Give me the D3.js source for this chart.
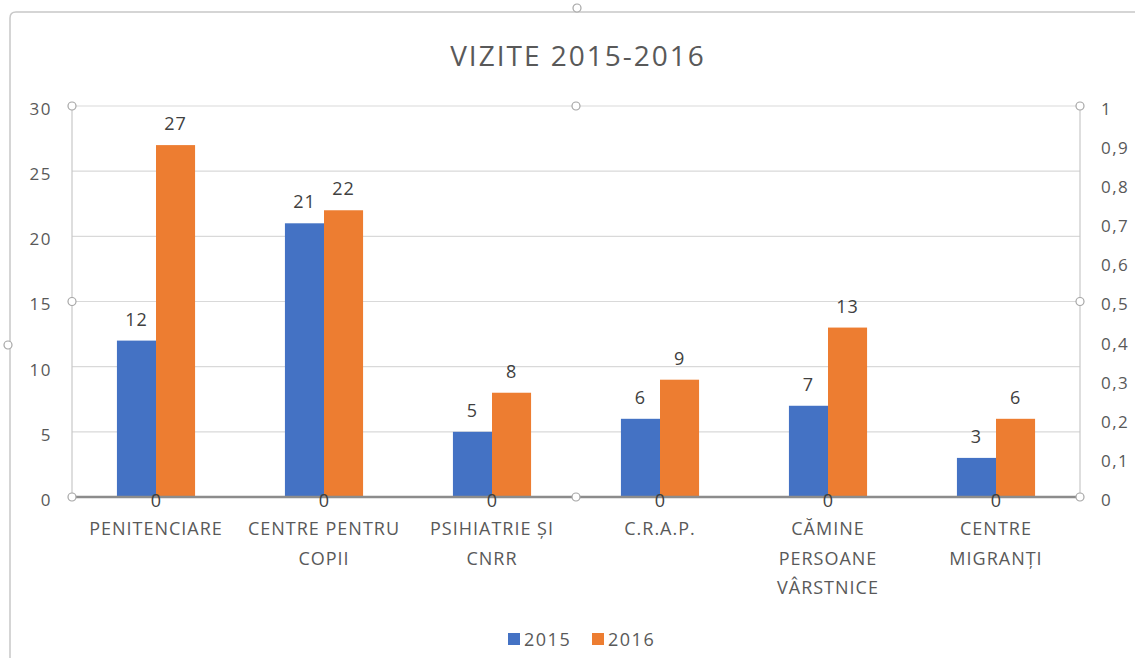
<!DOCTYPE html>
<html>
<head>
<meta charset="utf-8">
<script src="https://cdn.jsdelivr.net/npm/d3@7"></script>
<style>
	body { margin: 0; background: #fff; }
	svg { display: block; font-family: "Open Sans", sans-serif; }
</style>
</head>
<body>
<div id="main-view"></div>
<script>
var categories = [
	["PENITENCIARE"],
	["CENTRE PENTRU", "COPII"],
	["PSIHIATRIE ȘI", "CNRR"],
	["C.R.A.P."],
	["CĂMINE", "PERSOANE", "VÂRSTNICE"],
	["CENTRE", "MIGRANȚI"]
];
var series = ["2015", "2016"];
var values2015 = [12, 21, 5, 6, 7, 3];
var values2016 = [27, 22, 8, 9, 13, 6];
var secondaryValues = [0, 0, 0, 0, 0, 0];
var leftTicks = [0, 5, 10, 15, 20, 25, 30];
var rightTicks = [0, 0.1, 0.2, 0.3, 0.4, 0.5, 0.6, 0.7, 0.8, 0.9, 1];
var colors = ["#4472C4", "#ED7D31"];

function drawChart() {
	var width = 1135,
		height = 658;
	var plotLeft = 72,
		plotRight = 1080,
		plotTop = 106,
		plotBottom = 497;
	var textColor = "#595959";

	var svg = d3.select("#main-view").append("svg")
		.attr("width", width)
		.attr("height", height);

	// chart area border (chart is selected in the reference)
	svg.append("path")
		.attr("d", "M10," + height + " L10,18 Q10,12 16,12 L" + width + ",12")
		.attr("fill", "none")
		.attr("stroke", "#c8c8c8")
		.attr("stroke-width", 1.5);

	svg.append("text")
		.attr("x", 578)
		.attr("y", 66)
		.attr("text-anchor", "middle")
		.attr("fill", textColor)
		.style("font-size", "28px")
		.style("letter-spacing", "2px")
		.text("VIZITE 2015-2016");

	var x = d3.scaleBand()
		.domain(d3.range(categories.length))
		.range([plotLeft, plotRight]);

	var xInner = d3.scaleBand()
		.domain(series)
		.range([0, x.bandwidth()])
		.paddingInner(0)
		.paddingOuter(1.15);

	var y = d3.scaleLinear().domain([0, 30]).range([plotBottom, plotTop]);
	var y2 = d3.scaleLinear().domain([0, 1]).range([plotBottom, plotTop]);

	// gridlines
	svg.append("g")
		.selectAll("line")
		.data(leftTicks)
		.join("line")
		.attr("x1", plotLeft)
		.attr("x2", plotRight)
		.attr("y1", function(d) { return y(d); })
		.attr("y2", function(d) { return y(d); })
		.attr("stroke", "#d9d9d9")
		.attr("stroke-width", 1.2);

	// vertical axis lines
	[plotLeft, plotRight].forEach(function(px) {
		svg.append("line")
			.attr("x1", px).attr("x2", px)
			.attr("y1", plotTop).attr("y2", plotBottom)
			.attr("stroke", "#c8c8c8")
			.attr("stroke-width", 1.2);
	});

	var leftAxis = svg.append("g")
		.attr("transform", "translate(" + plotLeft + ",3)")
		.call(d3.axisLeft(y).tickValues(leftTicks).tickSize(0).tickPadding(20));
	leftAxis.select(".domain").remove();
	leftAxis.selectAll("text")
		.attr("fill", textColor)
		.style("font-size", "17px")
		.style("letter-spacing", "1.5px")
		.style("font-family", "Open Sans");

	var rightAxis = svg.append("g")
		.attr("transform", "translate(" + plotRight + ",3)")
		.call(d3.axisRight(y2).tickValues(rightTicks).tickSize(0).tickPadding(21)
			.tickFormat(function(d) { return String(+d.toFixed(1)).replace(".", ","); }));
	rightAxis.select(".domain").remove();
	rightAxis.selectAll("text")
		.attr("fill", textColor)
		.style("font-size", "17px")
		.style("letter-spacing", "1.5px")
		.style("font-family", "Open Sans");

	// bars
	var data = [values2015, values2016];
	var rows = function(i) {
		return series.map(function(s, j) { return { s: s, j: j, v: data[j][i] }; });
	};
	var groups = svg.append("g")
		.selectAll("g")
		.data(d3.range(categories.length))
		.join("g")
		.attr("transform", function(i) { return "translate(" + x(i) + ",0)"; });

	groups.selectAll("rect")
		.data(rows)
		.join("rect")
		.attr("x", function(d) { return xInner(d.s); })
		.attr("width", xInner.bandwidth())
		.attr("y", function(d) { return y(d.v); })
		.attr("height", function(d) { return plotBottom - y(d.v); })
		.attr("fill", function(d) { return colors[d.j]; });

	groups.selectAll("text.lbl")
		.data(rows)
		.join("text")
		.attr("class", "lbl")
		.attr("x", function(d) { return xInner(d.s) + xInner.bandwidth() / 2; })
		.attr("y", function(d) { return y(d.v) - 15; })
		.attr("text-anchor", "middle")
		.attr("fill", "#404040")
		.style("font-size", "18px")
		.style("letter-spacing", "1px")
		.text(function(d) { return d.v; });

	// baseline, primary and secondary horizontal axes
	svg.append("line")
		.attr("x1", plotLeft).attr("x2", plotRight)
		.attr("y1", plotBottom).attr("y2", plotBottom)
		.attr("stroke", "#8c8c8c")
		.attr("stroke-width", 2.5);

	// zero labels of the secondary series
	svg.append("g")
		.selectAll("text")
		.data(secondaryValues)
		.join("text")
		.attr("x", function(d, i) { return x(i) + x.bandwidth() / 2; })
		.attr("y", function(d) { return y2(d) + 10; })
		.attr("text-anchor", "middle")
		.attr("fill", "#404040")
		.style("font-size", "18px")
		.text(function(d) { return d; });

	// category labels
	var catLabels = svg.append("g")
		.selectAll("text")
		.data(categories)
		.join("text")
		.attr("x", function(d, i) { return x(i) + x.bandwidth() / 2; })
		.attr("y", 535)
		.attr("text-anchor", "middle")
		.attr("fill", textColor)
		.style("font-size", "18px")
		.style("letter-spacing", "1px");
	catLabels.selectAll("tspan")
		.data(function(d) { return d; })
		.join("tspan")
		.attr("x", function() { return d3.select(this.parentNode).attr("x"); })
		.attr("dy", function(d, i) { return i === 0 ? 0 : 29.5; })
		.text(function(d) { return d; });

	// selection handles
	var midX = (plotLeft + plotRight) / 2,
		midY = (plotTop + plotBottom) / 2;
	var handles = [
		[plotLeft, plotTop], [midX, plotTop], [plotRight, plotTop],
		[plotLeft, midY], [plotRight, midY],
		[plotLeft, plotBottom], [midX, plotBottom], [plotRight, plotBottom],
		[577, 8], [8, 345]
	];
	svg.append("g")
		.selectAll("circle")
		.data(handles)
		.join("circle")
		.attr("cx", function(d) { return d[0]; })
		.attr("cy", function(d) { return d[1]; })
		.attr("r", 4)
		.attr("fill", "#fff")
		.attr("stroke", "#a6a6a6")
		.attr("stroke-width", 1.2);

	// legend
	var legend = svg.append("g")
		.selectAll("g")
		.data(series)
		.join("g")
		.attr("transform", function(d, i) { return "translate(" + (508 + i * 84) + ",633)"; });
	legend.append("rect")
		.attr("width", 12)
		.attr("height", 12)
		.attr("fill", function(d, i) { return colors[i]; });
	legend.append("text")
		.attr("x", 16)
		.attr("y", 13)
		.attr("fill", textColor)
		.style("font-size", "18px")
		.style("letter-spacing", "1.5px")
		.text(function(d) { return d; });
}

drawChart();
</script>
</body>
</html>
